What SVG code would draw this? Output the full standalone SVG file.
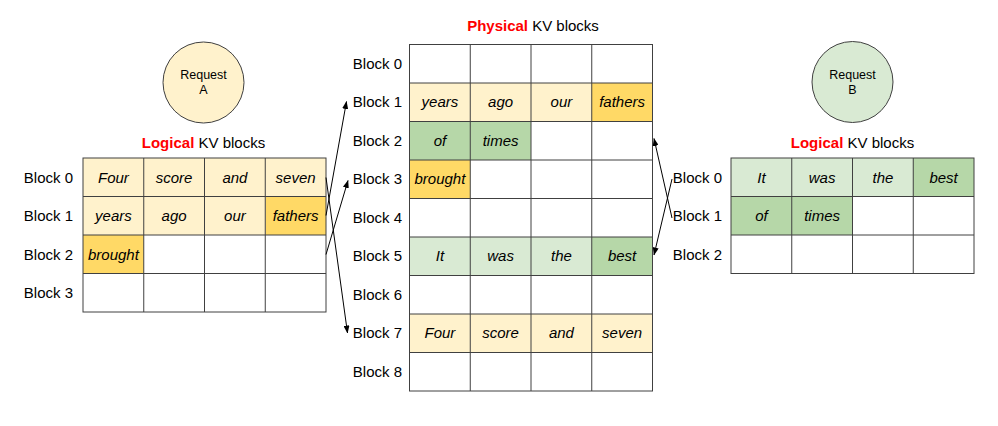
<svg xmlns="http://www.w3.org/2000/svg" width="998" height="426" viewBox="0 0 998 426">
<style>
text{font-family:"Liberation Sans",Arial,sans-serif;fill:#000}
.lbl{font-size:15px;text-anchor:end}
.lblr{font-size:15px;text-anchor:end}
.cell{font-size:15px;font-style:italic;text-anchor:middle}
.title{font-size:15px;text-anchor:middle}
.red{fill:#ff0000;font-weight:bold}
.req{font-size:12.5px;text-anchor:middle}
.grid{stroke:#404040;stroke-width:1;fill:none}
.ly{fill:#fff2cc}.dy{fill:#ffd966}.lg{fill:#d9ead3}.dg{fill:#b6d7a8}.wh{fill:#ffffff}
.conn{stroke:#000;stroke-width:1;fill:none;marker-end:url(#ah)}
</style>
<defs>
<marker id="ah" markerUnits="userSpaceOnUse" markerWidth="8" markerHeight="6" refX="7.5" refY="3" orient="auto">
<path d="M0,0 L8,3 L0,6 z" fill="#000"/>
</marker>
</defs>
<rect width="998" height="426" fill="#ffffff"/>

<g id="requestA">
<circle cx="203.5" cy="82.5" r="40.5" fill="#fff2cc" stroke="#404040" stroke-width="1"/>
<text class="req" x="203.5" y="79">Request</text>
<text class="req" x="203.5" y="94">A</text>
</g>

<g id="requestB">
<circle cx="852.5" cy="82" r="40.5" fill="#d9ead3" stroke="#404040" stroke-width="1"/>
<text class="req" x="852.5" y="79">Request</text>
<text class="req" x="852.5" y="94">B</text>
</g>

<g id="logicalA">
<text class="title" x="203.5" y="147.5"><tspan class="red">Logical</tspan> KV blocks</text>
<rect class="ly" x="83" y="158" width="243" height="77"/>
<rect class="dy" x="265.75" y="196.5" width="60.25" height="38.5"/>
<rect class="dy" x="83" y="235" width="60.75" height="38.5"/>
<rect class="grid" x="83" y="158" width="243" height="154"/>
<path class="grid" d="M83,196.5H326M83,235H326M83,273.5H326M143.75,158V312M204.5,158V312M265.25,158V312"/>
<text class="lbl" x="73" y="182.5">Block 0</text>
<text class="lbl" x="73" y="221">Block 1</text>
<text class="lbl" x="73" y="259.5">Block 2</text>
<text class="lbl" x="73" y="298">Block 3</text>
<text class="cell" x="113.4" y="182.5">Four</text>
<text class="cell" x="174.1" y="182.5">score</text>
<text class="cell" x="234.9" y="182.5">and</text>
<text class="cell" x="295.6" y="182.5">seven</text>
<text class="cell" x="113.4" y="221">years</text>
<text class="cell" x="174.1" y="221">ago</text>
<text class="cell" x="234.9" y="221">our</text>
<text class="cell" x="295.6" y="221">fathers</text>
<text class="cell" x="113.4" y="259.5">brought</text>
</g>

<g id="physical">
<text class="title" x="533" y="31"><tspan class="red">Physical</tspan> KV blocks</text>
<rect class="ly" x="409.5" y="83" width="243" height="38.5"/>
<rect class="dy" x="591.75" y="83" width="60.75" height="38.5"/>
<rect class="dg" x="409.5" y="121.5" width="121.5" height="38.5"/>
<rect class="dy" x="409.5" y="160" width="60.75" height="38.5"/>
<rect class="lg" x="409.5" y="237" width="243" height="38.5"/>
<rect class="dg" x="591.75" y="237" width="60.75" height="38.5"/>
<rect class="ly" x="409.5" y="314" width="243" height="38.5"/>
<rect class="grid" x="409.5" y="44.5" width="243" height="346.5"/>
<path class="grid" d="M409.5,83H652.5M409.5,121.5H652.5M409.5,160H652.5M409.5,198.5H652.5M409.5,237H652.5M409.5,275.5H652.5M409.5,314H652.5M409.5,352.5H652.5M470.25,44.5V391M531,44.5V391M591.75,44.5V391"/>
<text class="lbl" x="402" y="68.5">Block 0</text>
<text class="lbl" x="402" y="107">Block 1</text>
<text class="lbl" x="402" y="145.5">Block 2</text>
<text class="lbl" x="402" y="184">Block 3</text>
<text class="lbl" x="402" y="222.5">Block 4</text>
<text class="lbl" x="402" y="261">Block 5</text>
<text class="lbl" x="402" y="299.5">Block 6</text>
<text class="lbl" x="402" y="338">Block 7</text>
<text class="lbl" x="402" y="376.5">Block 8</text>
<text class="cell" x="439.9" y="107">years</text>
<text class="cell" x="500.6" y="107">ago</text>
<text class="cell" x="561.4" y="107">our</text>
<text class="cell" x="622.1" y="107">fathers</text>
<text class="cell" x="439.9" y="145.5">of</text>
<text class="cell" x="500.6" y="145.5">times</text>
<text class="cell" x="439.9" y="184">brought</text>
<text class="cell" x="439.9" y="261">It</text>
<text class="cell" x="500.6" y="261">was</text>
<text class="cell" x="561.4" y="261">the</text>
<text class="cell" x="622.1" y="261">best</text>
<text class="cell" x="439.9" y="338">Four</text>
<text class="cell" x="500.6" y="338">score</text>
<text class="cell" x="561.4" y="338">and</text>
<text class="cell" x="622.1" y="338">seven</text>
</g>

<g id="logicalB">
<text class="title" x="852.5" y="147.5"><tspan class="red">Logical</tspan> KV blocks</text>
<rect class="lg" x="731" y="158" width="243" height="38.5"/>
<rect class="dg" x="913.25" y="158" width="60.75" height="38.5"/>
<rect class="dg" x="731" y="196.5" width="121.5" height="38.5"/>
<rect class="grid" x="731" y="158" width="243" height="115.5"/>
<path class="grid" d="M731,196.5H974M731,235H974M791.75,158V273.5M852.5,158V273.5M913.25,158V273.5"/>
<text class="lblr" x="722" y="182.5">Block 0</text>
<text class="lblr" x="722" y="221">Block 1</text>
<text class="lblr" x="722" y="259.5">Block 2</text>
<text class="cell" x="761.4" y="182.5">It</text>
<text class="cell" x="822.1" y="182.5">was</text>
<text class="cell" x="882.9" y="182.5">the</text>
<text class="cell" x="943.6" y="182.5">best</text>
<text class="cell" x="761.4" y="221">of</text>
<text class="cell" x="822.1" y="221">times</text>
</g>

<g id="connectors">
<line class="conn" x1="326" y1="215.5" x2="346.5" y2="101.5"/>
<line class="conn" x1="326" y1="254.5" x2="348" y2="180.5"/>
<line class="conn" x1="326" y1="177.5" x2="347.5" y2="333"/>
<line class="conn" x1="672" y1="179" x2="654" y2="255"/>
<line class="conn" x1="672" y1="218" x2="654" y2="138.5"/>
</g>
</svg>
